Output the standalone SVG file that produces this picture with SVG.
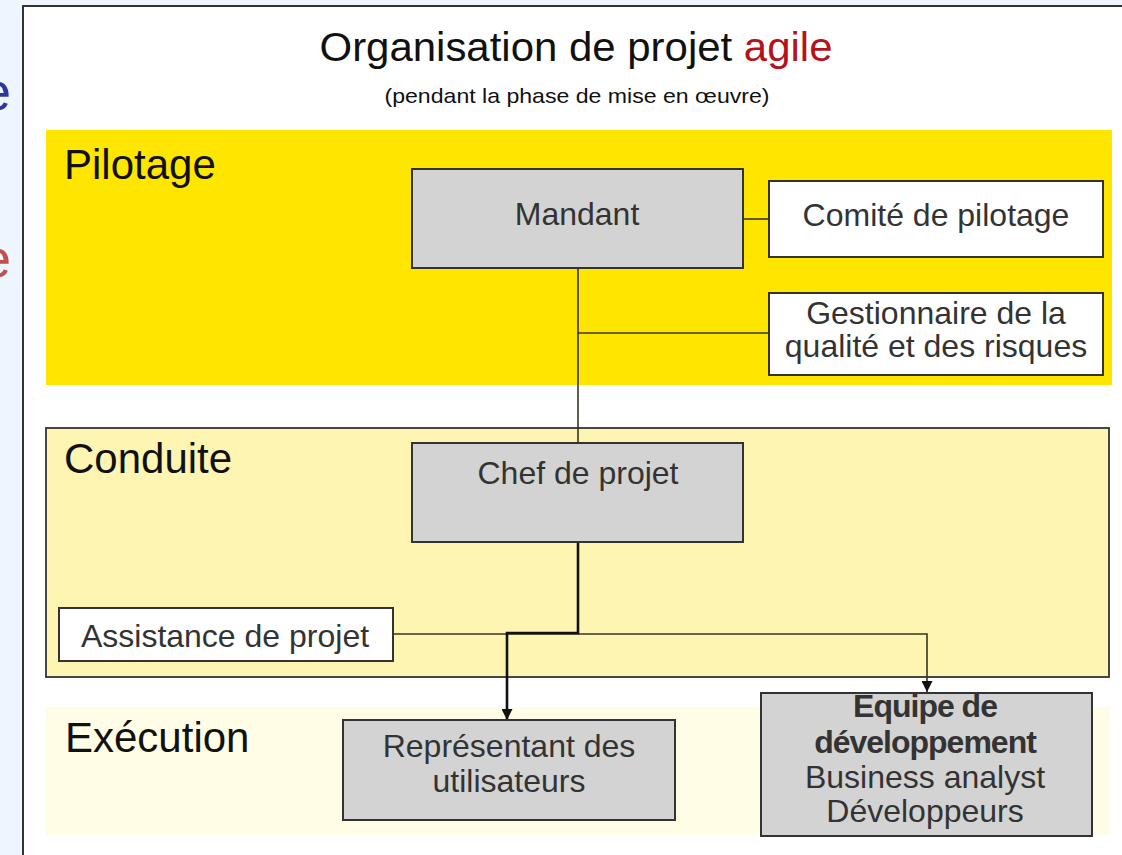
<svg xmlns="http://www.w3.org/2000/svg" width="1122" height="855" viewBox="0 0 1122 855">
  <defs>
    <style>
      .lbl { font-family: "Liberation Sans", Arial, sans-serif; fill: #111; }
      .band-lbl { font-size: 42px; }
      .node-txt { font-family: "Liberation Sans", Arial, sans-serif; font-size: 32px; fill: #333; text-anchor: middle; }
      .gray { fill: #d3d3d3; stroke: #333; stroke-width: 2; }
      .white { fill: #ffffff; stroke: #333; stroke-width: 2; }
      .thin { fill: none; stroke: #3a3520; stroke-width: 1.6; }
      .thick { fill: none; stroke: #111; stroke-width: 2.6; }
    </style>
    <marker id="arr" viewBox="0 0 10 10" refX="10" refY="5" markerWidth="11" markerHeight="11" markerUnits="userSpaceOnUse" orient="auto">
      <path d="M0,0 L10,5 L0,10 Z" fill="#111"/>
    </marker>
  </defs>

  <!-- page background -->
  <rect x="0" y="0" width="1122" height="855" fill="#eef5fe"/>
  <text x="-19" y="110" font-family="Liberation Sans, Arial, sans-serif" font-size="54" fill="#2f3699">e</text>
  <text x="-19" y="277" font-family="Liberation Sans, Arial, sans-serif" font-size="54" fill="#c0504d">e</text>

  <!-- frame -->
  <rect x="23" y="6" width="1112" height="870" fill="#ffffff" stroke="#333" stroke-width="2"/>

  <!-- title -->
  <text x="576" y="61" text-anchor="middle" font-family="Liberation Sans, Arial, sans-serif" font-size="41" fill="#111" textLength="513" lengthAdjust="spacingAndGlyphs">Organisation de projet <tspan fill="#b5121b">agile</tspan></text>
  <text x="577" y="103" text-anchor="middle" font-family="Liberation Sans, Arial, sans-serif" font-size="21" fill="#111" textLength="385" lengthAdjust="spacingAndGlyphs">(pendant la phase de mise en œuvre)</text>

  <!-- bands -->
  <g id="band-pilotage">
    <rect x="46" y="130" width="1066" height="255" fill="#ffe600"/>
    <text class="lbl band-lbl" x="64" y="179">Pilotage</text>
  </g>
  <g id="band-conduite">
    <rect x="46" y="428" width="1063" height="249" fill="#fff5b3" stroke="#333" stroke-width="1.8"/>
    <text class="lbl band-lbl" x="64" y="473">Conduite</text>
  </g>
  <g id="band-execution">
    <rect x="46" y="707" width="1064" height="128" fill="#fffde6"/>
    <text class="lbl band-lbl" x="65" y="752">Exécution</text>
  </g>

  <!-- connectors -->
  <g id="connectors">
    <line class="thin" x1="743" y1="219" x2="769" y2="219"/>
    <line class="thin" x1="578" y1="268" x2="578" y2="443"/>
    <line class="thin" x1="578" y1="333" x2="769" y2="333"/>
    <line class="thin" x1="393" y1="634" x2="578" y2="634"/>
    <polyline class="thin" points="578,634 927,634 927,692" marker-end="url(#arr)"/>
    <polyline class="thick" points="578,542 578,633 507,633 507,720" marker-end="url(#arr)"/>
  </g>

  <!-- nodes -->
  <g id="node-mandant">
    <rect class="gray" x="412" y="169" width="331" height="99"/>
    <text class="node-txt" x="577" y="225">Mandant</text>
  </g>
  <g id="node-comite">
    <rect class="white" x="769" y="181" width="334" height="76"/>
    <text class="node-txt" x="936" y="226">Comité de pilotage</text>
  </g>
  <g id="node-gestionnaire">
    <rect class="white" x="769" y="293" width="334" height="82"/>
    <text class="node-txt" x="936" y="324" font-size="30">Gestionnaire de la</text>
    <text class="node-txt" x="936" y="357" font-size="30">qualité et des risques</text>
  </g>
  <g id="node-chef">
    <rect class="gray" x="412" y="443" width="331" height="99"/>
    <text class="node-txt" x="578" y="484">Chef de projet</text>
  </g>
  <g id="node-assistance">
    <rect class="white" x="59" y="608" width="334" height="53"/>
    <text class="node-txt" x="225" y="647">Assistance de projet</text>
  </g>
  <g id="node-representant">
    <rect class="gray" x="343" y="720" width="332" height="100"/>
    <text class="node-txt" x="509" y="757">Représentant des</text>
    <text class="node-txt" x="509" y="792">utilisateurs</text>
  </g>
  <g id="node-equipe">
    <rect class="gray" x="761" y="693" width="331" height="143"/>
    <text class="node-txt" x="925" y="717" font-size="27" font-weight="bold" fill="#111" letter-spacing="-1">Equipe de</text>
    <text class="node-txt" x="925" y="753" font-size="27" font-weight="bold" fill="#111" letter-spacing="-1">développement</text>
    <text class="node-txt" x="925" y="788" font-size="27">Business analyst</text>
    <text class="node-txt" x="925" y="822" font-size="27">Développeurs</text>
  </g>
</svg>
